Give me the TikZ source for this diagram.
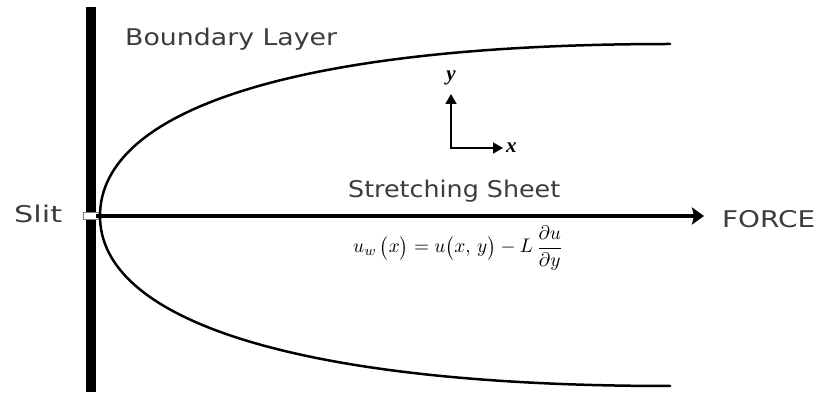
\documentclass[tikz,border=0pt]{standalone}
\usepackage{amsmath}
\usepackage{fontspec}
\usepackage{graphicx}
\usetikzlibrary{arrows.meta}
\newfontfamily\handfont{DejaVu Sans}
\newfontfamily\tnr{Liberation Serif}
\definecolor{handgray}{HTML}{3C3C3C}
\newcommand\hwfit[2]{\resizebox{#1}{\height}{#2}}
\tikzset{
  hand/.style={font={\handfont\fontsize{23}{26}\selectfont}, text=handgray, inner sep=0pt, anchor=base west},
  axislabel/.style={font={\tnr\bfseries\itshape\fontsize{21}{24}\selectfont}, inner sep=0pt},
  layer/.style={line width=2.5pt, line cap=round},
  sheet/.style={line width=4pt, -{Stealth[length=12pt,width=17pt,inset=2pt]}},
  axisarrow/.style={line width=1.8pt, -{Triangle[length=10pt,width=11pt]}},
}
\begin{document}
\begin{tikzpicture}[x=1pt,y=-1pt]
\useasboundingbox (0,0) rectangle (817,395);
% wall
\node[fill=black, minimum width=10pt, minimum height=385pt, inner sep=0pt] (wall) at (91,199.5) {};
% slit gap
\node[fill=white, draw=gray, line width=0.6pt, minimum width=15pt, minimum height=7pt, inner sep=0pt] (slitgap) at (91,216) {};
% boundary layer curve
\coordinate (vertex) at (100,216);
\coordinate (upperend) at (670,44);
\coordinate (lowerend) at (670,386);
\draw[layer] (upperend) .. controls (295,44) and (100,110) .. (vertex)
                        .. controls (100,320) and (295,386) .. (lowerend);
% stretching sheet arrow
\coordinate (origin) at (96,216);
\coordinate (tip) at (704,216);
\draw[sheet] (origin) -- (tip);
% texts
\node[hand] (bl) at (125,46) {\hwfit{212pt}{Boundary Layer}};
\node[hand] (ss) at (348,198) {\hwfit{212pt}{Stretching Sheet}};
\node[hand] (slit) at (14,223) {\hwfit{48pt}{Slit}};
\node[hand] (force) at (722,228) {\hwfit{93pt}{FORCE}};
% equation
\node[anchor=base west, inner sep=0pt] (eq) at (353,253)
  {\resizebox{210pt}{27pt}{$u_w\,\bigl(x\bigr) = u\bigl(x,\, y\bigr) - L\,\dfrac{\partial u}{\partial y}$}};
% axes
\coordinate (ax0) at (451,148);
\coordinate (axy) at (451,94);
\coordinate (axx) at (503,148);
\draw[axisarrow] (ax0) -- (axy);
\draw[axisarrow] (ax0) -- (axx);
\draw[line width=1.8pt] ([xshift=-0.9pt]ax0) -- ([xshift=0.9pt]ax0);
\node[axislabel] (ylab) at (451,78) {y};
\node[axislabel, anchor=west] (xlab) at (506,148) {x};
\end{tikzpicture}
\end{document}
